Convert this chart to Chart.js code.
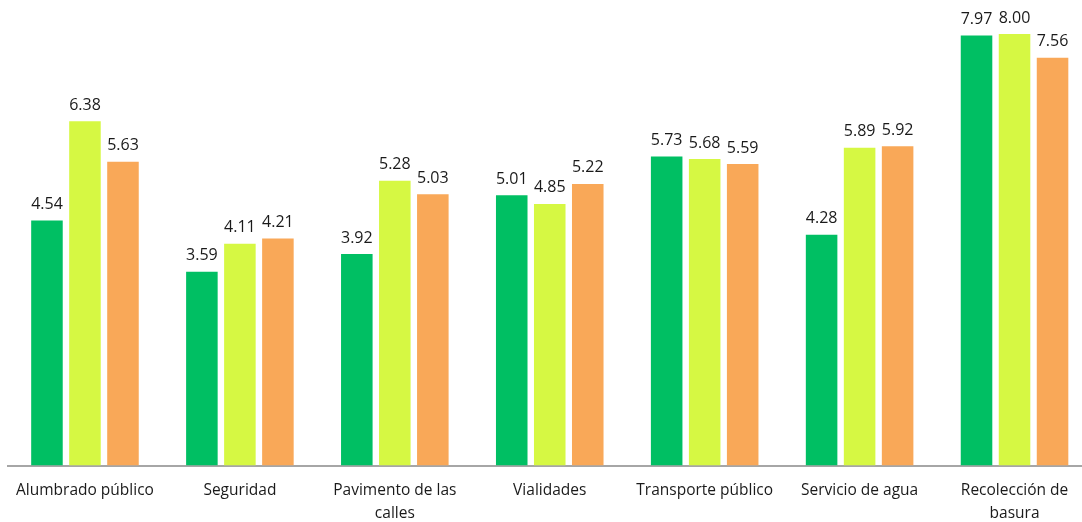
<!DOCTYPE html>
<html><head><meta charset="utf-8">
<script src="https://cdn.jsdelivr.net/npm/chart.js@4/dist/chart.umd.min.js"></script>
<style>
html,body{margin:0;padding:0;background:#fff;overflow:hidden;}
#wrap{position:relative;width:1100px;height:522px;}
</style></head><body>
<div id="wrap"><canvas id="c"></canvas></div>
<script>
const categories = ["Alumbrado público","Seguridad",["Pavimento de las","calles"],"Vialidades","Transporte público","Servicio de agua",["Recolección de","basura"]];
const serie1 = [4.54,3.59,3.92,5.01,5.73,4.28,7.97];
const serie2 = [6.38,4.11,5.28,4.85,5.68,5.89,8.00];
const serie3 = [5.63,4.21,5.03,5.22,5.59,5.92,7.56];
const colors = ["#00BF63","#D6F843","#F9A858"];

const labelPlugin = {
  id:'valLabels',
  afterDatasetsDraw(chart){
    const ctx = chart.ctx;
    ctx.save();
    ctx.font = '16px "Open Sans", sans-serif';
    ctx.fillStyle = '#1a1a1a';
    ctx.textAlign = 'center';
    ctx.textBaseline = 'bottom';
    chart.data.datasets.forEach((ds,i)=>{
      chart.getDatasetMeta(i).data.forEach((bar,j)=>{
        ctx.fillText(ds.data[j].toFixed(2), bar.x, bar.y - 8);
      });
    });
    ctx.restore();
  }
};

new Chart(document.getElementById('c'),{
  type:'bar',
  data:{
    labels:categories,
    datasets:[
      {data:serie1,backgroundColor:colors[0]},
      {data:serie2,backgroundColor:colors[1]},
      {data:serie3,backgroundColor:colors[2]}
    ]
  },
  options:{
    responsive:true,maintainAspectRatio:false,animation:false,
    categoryPercentage:0.736,barPercentage:0.83,
    layout:{padding:{left:7.5,right:8,top:0,bottom:0}},
    plugins:{legend:{display:false},tooltip:{enabled:false}},
    scales:{
      y:{display:false,min:0,max:8.63},
      x:{
        grid:{display:false,drawTicks:false},
        border:{display:true,color:'#A6A6A6',width:2},
        ticks:{color:'#1a1a1a',font:{family:'"Open Sans", sans-serif',size:15.5,lineHeight:1.45},padding:14,maxRotation:0,autoSkip:false},
        afterFit(s){s.height=56.5;}
      }
    }
  },
  plugins:[labelPlugin]
});
</script>
</body></html>
